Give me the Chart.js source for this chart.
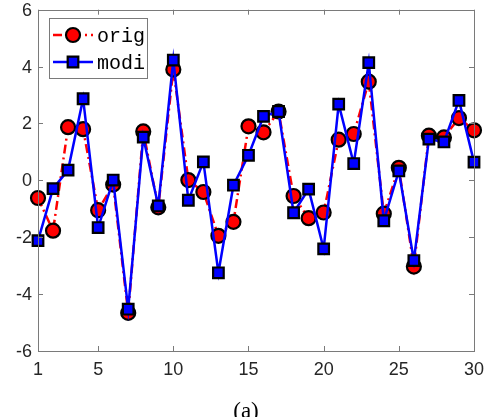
<!DOCTYPE html>
<html>
<head>
<meta charset="utf-8">
<script src="https://cdn.jsdelivr.net/npm/chart.js@4.4.1/dist/chart.umd.min.js"></script>
<style>
  html, body { margin: 0; padding: 0; background: #fff; }
  #wrap { width: 490px; height: 417px; position: relative; }
</style>
</head>
<body>
<div id="wrap"><canvas id="c" width="490" height="417"></canvas></div>
<script>
// values
var xs = [1,2,3,4,5,6,7,8,9,10,11,12,13,14,15,16,17,18,19,20,21,22,23,24,25,26,27,28,29,30];
var orig = [-0.62,-1.77,1.87,1.80,-1.05,-0.15,-4.66,1.72,-0.95,3.90,0.01,-0.41,-1.95,-1.46,1.90,
            1.69,2.42,-0.55,-1.33,-1.13,1.43,1.63,3.47,-1.17,0.44,-3.03,1.57,1.51,2.19,1.76];
var modi = [-2.12,-0.29,0.36,2.87,-1.66,0.01,-4.53,1.52,-0.90,4.23,-0.70,0.65,-3.25,-0.17,0.88,
            2.25,2.42,-1.14,-0.31,-2.41,2.68,0.59,4.14,-1.42,0.33,-2.82,1.45,1.35,2.81,0.64];
var xTicks = [1,5,10,15,20,25,30];
var yTicks = [-6,-4,-2,0,2,4,6];
var seriesNames = ['orig', 'modi'];
var caption = '(a)';

var axisColor = '#7a7a7a';
var labelColor = '#262626';
var labelFont = '18px "Liberation Sans", Arial, sans-serif';

function pts(vals) {
  return vals.map(function (v, i) { return { x: xs[i], y: v }; });
}

// MATLAB-like box with inward ticks, legend and caption
var boxPlugin = {
  id: 'box',
  afterDraw: function (chart) {
    var ctx = chart.ctx, a = chart.chartArea;
    var sx = chart.scales.x, sy = chart.scales.y;
    ctx.save();
    ctx.strokeStyle = axisColor;
    ctx.lineWidth = 1;
    ctx.strokeRect(Math.round(a.left) + 0.5, Math.round(a.top) + 0.5,
                   Math.round(a.right - a.left), Math.round(a.bottom - a.top));
    var tl = 5;
    ctx.beginPath();
    xTicks.forEach(function (t) {
      var px = Math.round(sx.getPixelForValue(t)) + 0.5;
      ctx.moveTo(px, a.bottom); ctx.lineTo(px, a.bottom - tl);
      ctx.moveTo(px, a.top); ctx.lineTo(px, a.top + tl);
    });
    yTicks.forEach(function (t) {
      var py = Math.round(sy.getPixelForValue(t)) + 0.5;
      ctx.moveTo(a.left, py); ctx.lineTo(a.left + tl, py);
      ctx.moveTo(a.right, py); ctx.lineTo(a.right - tl, py);
    });
    ctx.stroke();

    // tick labels
    ctx.fillStyle = labelColor;
    ctx.font = labelFont;
    ctx.textAlign = 'center';
    ctx.textBaseline = 'middle';
    xTicks.forEach(function (t) {
      ctx.fillText(String(t), sx.getPixelForValue(t), a.bottom + 19);
    });
    ctx.textAlign = 'right';
    yTicks.forEach(function (t) {
      ctx.fillText(String(t), a.left - 6, sy.getPixelForValue(t) + 1);
    });

    // legend
    var lx = 49, ly = 18, lw = 98, lh = 60;
    ctx.fillStyle = '#fff';
    ctx.fillRect(lx, ly, lw, lh);
    ctx.strokeStyle = axisColor;
    ctx.strokeRect(lx + 0.5, ly + 0.5, lw, lh);
    chart.data.datasets.forEach(function (ds, i) {
      var yy = ly + 17 + i * 27;
      ctx.save();
      ctx.strokeStyle = ds.borderColor;
      ctx.lineWidth = ds.borderWidth;
      ctx.setLineDash(ds.borderDash || []);
      ctx.beginPath();
      ctx.moveTo(lx + 4, yy); ctx.lineTo(lx + 44, yy);
      ctx.stroke();
      ctx.restore();
      ctx.save();
      ctx.fillStyle = ds.pointBackgroundColor;
      ctx.strokeStyle = ds.pointBorderColor;
      ctx.lineWidth = ds.pointBorderWidth;
      Chart.helpers.drawPoint(ctx, { pointStyle: ds.pointStyle, radius: ds.pointRadius, rotation: 0, borderWidth: ds.pointBorderWidth }, lx + 24, yy);
      ctx.restore();
      ctx.fillStyle = '#000';
      ctx.font = '20px "Liberation Mono", "Courier New", monospace';
      ctx.textAlign = 'left';
      ctx.textBaseline = 'middle';
      ctx.fillText(seriesNames[i], lx + 48, yy + 2);
    });

    // caption, partly cut at the bottom edge
    ctx.fillStyle = '#000';
    ctx.font = '23px "Liberation Serif", "Times New Roman", serif';
    ctx.textAlign = 'center';
    ctx.textBaseline = 'alphabetic';
    ctx.fillText(caption, 246, 418);
    ctx.restore();
  }
};

new Chart(document.getElementById('c'), {
  type: 'line',
  data: {
    datasets: [
      {
        label: seriesNames[0],
        data: pts(orig),
        order: 1,
        borderColor: '#ff0000',
        borderWidth: 2.5,
        borderDash: [9, 4, 2, 4],
        pointStyle: 'circle',
        pointRadius: 7,
        pointBackgroundColor: '#ff0000',
        pointBorderColor: '#000',
        pointBorderWidth: 2.2,
        tension: 0
      },
      {
        label: seriesNames[1],
        data: pts(modi),
        order: 0,
        borderColor: '#0000ff',
        borderWidth: 2.5,
        pointStyle: 'rect',
        pointRadius: 7.5,
        pointBackgroundColor: '#0000ff',
        pointBorderColor: '#000',
        pointBorderWidth: 2.2,
        tension: 0
      }
    ]
  },
  options: {
    responsive: false,
    animation: false,
    clip: false,
    layout: { padding: { top: 7, right: 16, left: 0, bottom: 0 } },
    plugins: { legend: { display: false }, tooltip: { enabled: false } },
    scales: {
      x: {
        type: 'linear', min: 1, max: 30,
        grid: { display: false },
        border: { display: false },
        ticks: { display: false },
        afterFit: function (s) { s.height = 66; }
      },
      y: {
        min: -6, max: 6,
        grid: { display: false },
        border: { display: false },
        ticks: { display: false },
        afterFit: function (s) { s.width = 38; }
      }
    }
  },
  plugins: [boxPlugin]
});
</script>
</body>
</html>
